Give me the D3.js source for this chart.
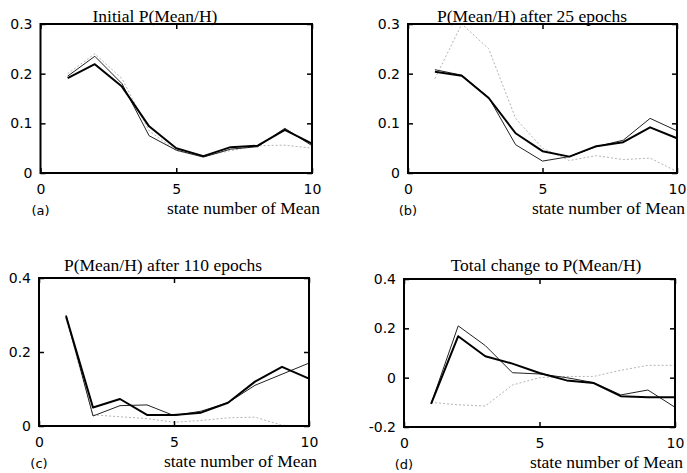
<!DOCTYPE html>
<html>
<head>
<meta charset="utf-8">
<script src="https://cdn.jsdelivr.net/npm/d3@7"></script>
<style>
  body { margin: 0; background: #fff; }
  svg { display: block; }
</style>
</head>
<body>
<div id="root"></div>
<script>
// state numbers along x
var states = [1, 2, 3, 4, 5, 6, 7, 8, 9, 10];
var xTicks = [0, 5, 10];

// (a) initial P(Mean/H)
var initThick = [0.191, 0.219, 0.174, 0.094, 0.050, 0.034, 0.052, 0.055, 0.087, 0.059];
var initThin  = [0.195, 0.235, 0.180, 0.075, 0.046, 0.032, 0.048, 0.053, 0.090, 0.055];
var initGray  = [0.200, 0.240, 0.190, 0.085, 0.045, 0.033, 0.045, 0.055, 0.056, 0.050];

// (b) after 25 epochs
var ep25Thick = [0.204, 0.196, 0.151, 0.080, 0.044, 0.033, 0.054, 0.062, 0.092, 0.070];
var ep25Thin  = [0.208, 0.197, 0.152, 0.057, 0.024, 0.033, 0.053, 0.066, 0.110, 0.085];
var ep25Gray  = [0.190, 0.300, 0.250, 0.110, 0.050, 0.025, 0.035, 0.027, 0.030, 0.003];

// (c) after 110 epochs
var ep110Thick = [0.297, 0.050, 0.073, 0.030, 0.030, 0.036, 0.063, 0.120, 0.160, 0.128];
var ep110Thin  = [0.300, 0.027, 0.055, 0.057, 0.028, 0.040, 0.063, 0.110, 0.140, 0.170];
var ep110Gray  = [0.290, 0.030, 0.025, 0.020, 0.010, 0.015, 0.022, 0.024, 0.002, 0.000];

// (d) total change
var changeThick = [-0.106, 0.168, 0.087, 0.057, 0.019, -0.011, -0.022, -0.075, -0.079, -0.079];
var changeThin  = [-0.106, 0.210, 0.130, 0.020, 0.015, 0.000, -0.020, -0.070, -0.050, -0.120];
var changeGray  = [-0.100, -0.110, -0.115, -0.030, 0.000, 0.005, 0.005, 0.030, 0.050, 0.050];

var titles = ["Initial P(Mean/H)", "P(Mean/H) after 25 epochs",
              "P(Mean/H) after 110 epochs", "Total change to P(Mean/H)"];
var tags = ["(a)", "(b)", "(c)", "(d)"];
var yTicksAB = [0, 0.1, 0.2, 0.3];
var yTicksC = [0, 0.2, 0.4];
var yTicksD = [-0.2, 0, 0.2, 0.4];

window.onload = function () {
    var width = 687, height = 473;
    var svg = d3.select("#root").append("svg")
        .attr("width", width)
        .attr("height", height);

    var panels = [
        { box: [40.5, 312, 24, 173], yd: [0, 0.3], yt: yTicksAB, series: [initThick, initThin, initGray], tx: 155, ty: 22 },
        { box: [408, 677, 24, 173], yd: [0, 0.3], yt: yTicksAB, series: [ep25Thick, ep25Thin, ep25Gray], tx: 532, ty: 22 },
        { box: [39, 309, 278, 426], yd: [0, 0.4], yt: yTicksC, series: [ep110Thick, ep110Thin, ep110Gray], tx: 163, ty: 271 },
        { box: [404, 675, 279, 427], yd: [-0.2, 0.4], yt: yTicksD, series: [changeThick, changeThin, changeGray], tx: 546, ty: 271 }
    ];

    var styles = [
        { stroke: "#000", w: 2, dash: null },
        { stroke: "#222", w: 1, dash: null },
        { stroke: "#b4b4b4", w: 1, dash: "2,2" }
    ];

    panels.forEach(function (p, k) {
        var x0 = p.box[0], x1 = p.box[1], y0 = p.box[2], y1 = p.box[3];
        var x = d3.scaleLinear().domain([0, 10]).range([x0, x1]);
        var y = d3.scaleLinear().domain(p.yd).range([y1, y0]);
        var g = svg.append("g");

        // lines (gray first, thick on top)
        var line = d3.line()
            .x(function (d, i) { return x(states[i]); })
            .y(function (d) { return y(d); });
        [2, 1, 0].forEach(function (s) {
            g.append("path")
                .datum(p.series[s])
                .attr("d", line)
                .attr("fill", "none")
                .attr("stroke", styles[s].stroke)
                .attr("stroke-width", styles[s].w)
                .attr("stroke-dasharray", styles[s].dash)
                .attr("stroke-linejoin", "round");
        });

        // axes with inward ticks
        var fontTick = "DejaVu Sans";
        g.append("g").attr("transform", "translate(0," + y1 + ")")
            .call(d3.axisBottom(x).tickValues(xTicks).tickSize(-5).tickPadding(11).tickFormat(String));
        g.append("g").attr("transform", "translate(" + x0 + ",0)")
            .call(d3.axisLeft(y).tickValues(p.yt).tickSize(-5).tickPadding(8).tickFormat(String));
        g.append("g").attr("transform", "translate(0," + y0 + ")")
            .call(d3.axisTop(x).tickValues(xTicks).tickSize(-5).tickFormat(""));
        g.append("g").attr("transform", "translate(" + x1 + ",0)")
            .call(d3.axisRight(y).tickValues(p.yt).tickSize(-5).tickFormat(""));
        g.selectAll(".domain").remove();
        g.selectAll(".tick line").attr("stroke", "#000").attr("stroke-width", 1.5);
        g.selectAll(".tick text")
            .attr("fill", "#000")
            .style("font-family", fontTick)
            .style("font-size", "14px");

        g.append("rect")
            .attr("x", x0).attr("y", y0)
            .attr("width", x1 - x0).attr("height", y1 - y0)
            .attr("fill", "none")
            .attr("stroke", "#000")
            .attr("stroke-width", 2);

        // title
        svg.append("text")
            .attr("x", p.tx).attr("y", p.ty)
            .attr("text-anchor", "middle")
            .style("font-family", "Liberation Serif")
            .style("font-size", "17.5px")
            .text(titles[k]);

        // x label
        svg.append("text")
            .attr("x", x1 + 8).attr("y", y1 + 41)
            .attr("text-anchor", "end")
            .style("font-family", "Liberation Serif")
            .style("font-size", "17.5px")
            .text("state number of Mean");

        // panel tag
        svg.append("text")
            .attr("x", x0).attr("y", y1 + 42)
            .attr("text-anchor", "middle")
            .style("font-family", fontTick)
            .style("font-size", "13px")
            .text(tags[k]);
    });
};
</script>
</body>
</html>
